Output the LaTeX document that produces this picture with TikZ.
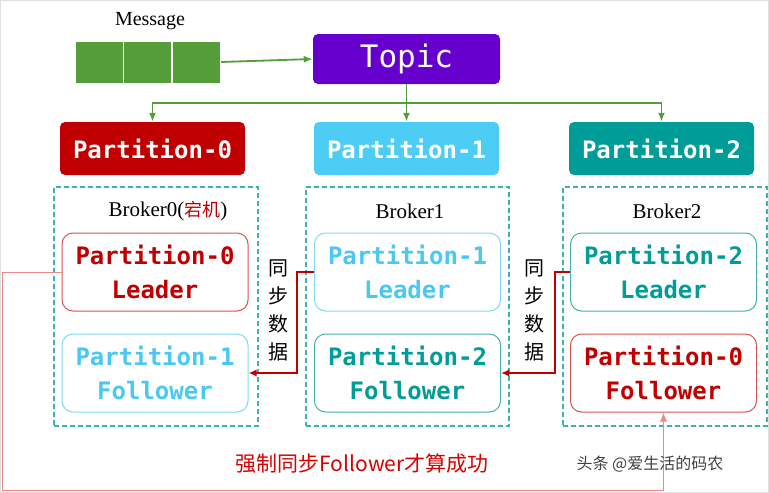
\documentclass[tikz,border=0pt]{standalone}
\usepackage{fontspec}
\setmainfont{Liberation Serif}
\newfontfamily\cjk{Noto Sans CJK SC}
\newfontfamily\pmono{DejaVu Sans Mono}
\usetikzlibrary{arrows.meta, calc, positioning}
\definecolor{kred}{HTML}{C00000}
\definecolor{kredline}{HTML}{D9534F}
\definecolor{kpink}{HTML}{E88A8A}
\definecolor{kblue}{HTML}{4DCCF5}
\definecolor{kbluetxt}{HTML}{48C8F2}
\definecolor{kteal}{HTML}{009C98}
\definecolor{ktealline}{HTML}{40B2AE}
\definecolor{kpurple}{HTML}{6600CC}
\definecolor{kgreen}{HTML}{549E39}
\tikzset{
  header/.style   = {rounded corners=5pt, minimum width=185pt, minimum height=53pt,
                     text=white, inner sep=0pt, font=\pmono\bfseries\fontsize{24}{24}\selectfont},
  part/.style     = {draw, line width=1pt, rounded corners=11pt, minimum width=186pt,
                     minimum height=78pt, inner sep=0pt, align=center,
                     font=\pmono\bfseries\fontsize{24}{34}\selectfont},
  broker/.style   = {draw=ktealline, dashed, dash pattern=on 5pt off 3pt, line width=1.1pt,
                     minimum height=239pt, inner sep=0pt},
  cell/.style     = {fill=kgreen, draw=white, line width=0.8pt, minimum width=48pt,
                     minimum height=42pt, inner sep=0pt},
  feed/.style     = {-{Latex[length=9pt,width=7pt]}, line width=1.8pt, kgreen},
  sync/.style     = {-{Latex[length=8pt,width=7pt]}, line width=2.6pt, kred},
  force/.style    = {-{Latex[length=9pt,width=7pt]}, line width=0.8pt, kpink},
  vlbl/.style     = {align=center, inner sep=0pt, font=\cjk\fontsize{20}{28}\selectfont},
  blbl/.style     = {inner sep=0pt, font=\fontsize{21}{21}\selectfont},
}

\begin{document}
\begin{tikzpicture}[x=1pt, y=-1pt]
  \useasboundingbox (0,0) rectangle (769,493);
  \draw[black!12, line width=0.8pt] (0.5,0.5) rectangle (768.5,492.5);

  % message and topic
  \node[blbl, font=\fontsize{20}{20}\selectfont] (msglbl) at (150,21) {Message};
  \node[cell] (msg0) at (99,62) {};
  \node[cell, right=0pt of msg0] (msg1) {};
  \node[cell, right=0pt of msg1] (msg2) {};
  \node[header, fill=kpurple, minimum width=187pt, minimum height=50pt,
        font=\pmono\fontsize{31}{31}\selectfont] (topic) at (406.5,59) {Topic};
  \draw[feed] (msg2.east) -- (topic.west);

  % partitions
  \node[header, fill=kred]  (head0) at (152.5,148.5) {Partition-0};
  \node[header, fill=kblue] (head1) at (406.5,148.5) {Partition-1};
  \node[header, fill=kteal] (head2) at (661.5,148.5) {Partition-2};
  \draw[feed] (topic.south) -- ++(0,19) -| (head0.north);
  \draw[feed] (topic.south) -- (head1.north);
  \draw[feed] (topic.south) -- ++(0,19) -| (head2.north);

  % brokers
  \node[broker, minimum width=204pt] (brk0) at (156,306.5) {};
  \node[broker, minimum width=203pt] (brk1) at (407.5,306.5) {};
  \node[broker, minimum width=204pt] (brk2) at (665,306.5) {};
  \node[blbl] (blbl0) at (168,211) {Broker0(\textcolor{kred}{\cjk\fontsize{18}{18}\selectfont 宕机})};
  \node[blbl] (blbl1) at (410,211) {Broker1};
  \node[blbl] (blbl2) at (667,211) {Broker2};

  \node[part, draw=kredline, text=kred]         (lead0) at (155,272)   {Partition-0\\Leader};
  \node[part, draw=kbluetxt!70, text=kbluetxt]  (fol0)  at (155,373)   {Partition-1\\Follower};
  \node[part, draw=kbluetxt!70, text=kbluetxt]  (lead1) at (407.5,272) {Partition-1\\Leader};
  \node[part, draw=ktealline, text=kteal]       (fol1)  at (407.5,373) {Partition-2\\Follower};
  \node[part, draw=ktealline, text=kteal]       (lead2) at (663.5,272) {Partition-2\\Leader};
  \node[part, draw=kredline, text=kred]         (fol2)  at (663.5,373) {Partition-0\\Follower};

  % replication
  \node[vlbl] (sync0) at (278,310) {同\\步\\数\\据};
  \node[vlbl] (sync1) at (534,310) {同\\步\\数\\据};
  \draw[sync] (lead1.west) -- ++(-17,0) |- (fol0.east);
  \draw[sync] (lead2.west) -- ++(-15,0) |- (fol1.east);

  \draw[force] (lead0.west) -- ++(-59,0) -- ++(0,218) -| (fol2.south);
  \node[inner sep=0pt, text=red!85!black, font=\cjk\fontsize{21}{21}\selectfont] (note) at (362,464) {强制同步Follower才算成功};
  \node[inner sep=0pt, text=black!75, font=\cjk\fontsize{16}{16}\selectfont] (mark) at (650,464) {头条 @爱生活的码农};
\end{tikzpicture}
\end{document}
